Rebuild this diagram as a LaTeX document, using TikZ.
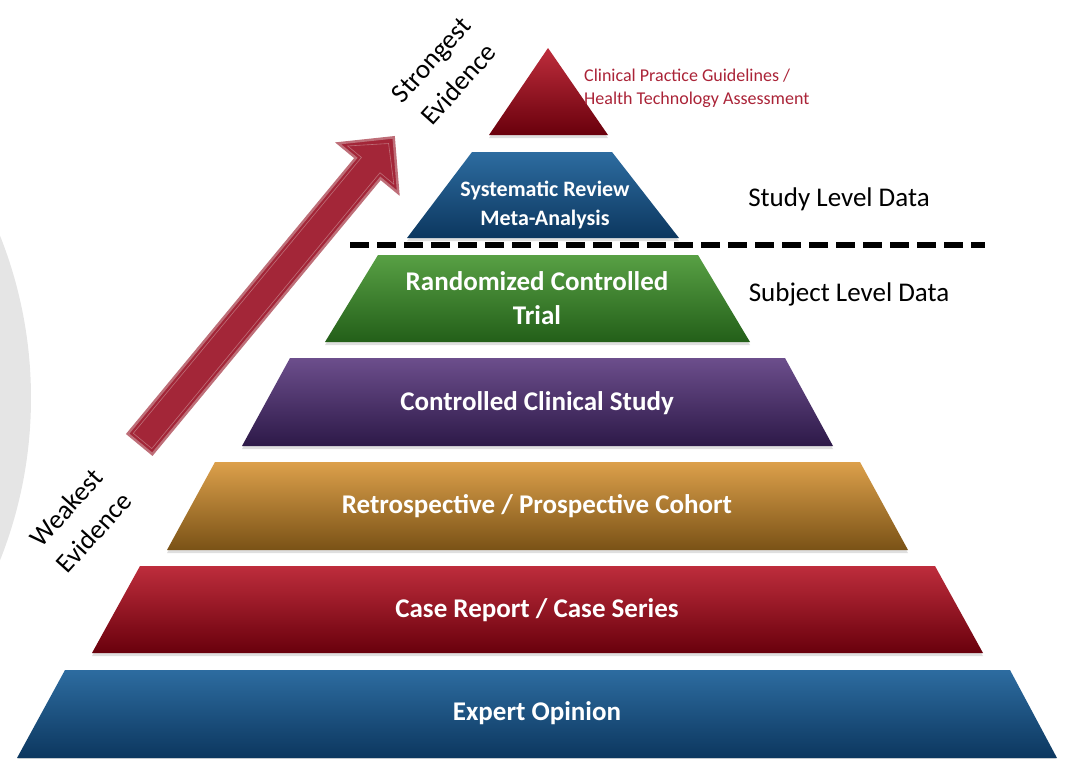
\documentclass[tikz,border=0pt]{standalone}
\usepackage{fontspec}
\setmainfont{Carlito}
\usetikzlibrary{positioning, shadows}

\definecolor{redtop}{RGB}{190,45,60}
\definecolor{redbot}{RGB}{105,0,12}
\definecolor{bluetop}{RGB}{45,108,160}
\definecolor{bluebot}{RGB}{12,55,95}
\definecolor{greentop}{RGB}{88,160,68}
\definecolor{greenbot}{RGB}{35,95,25}
\definecolor{purpletop}{RGB}{108,78,140}
\definecolor{purplebot}{RGB}{45,25,72}
\definecolor{goldtop}{RGB}{220,160,75}
\definecolor{goldbot}{RGB}{122,82,22}
\definecolor{arrowred}{RGB}{163,38,56}
\definecolor{arrowedge}{RGB}{190,110,120}
\definecolor{guidered}{RGB}{170,35,55}

\begin{document}
\begin{tikzpicture}[
  x=1pt, y=-1pt,
  tier/.style={drop shadow={opacity=0.25, shadow xshift=0pt, shadow yshift=-3pt}},
  tierlabel/.style={text=white, align=center, inner sep=0pt,
    font=\bfseries\fontsize{27}{34}\selectfont},
  sidelabel/.style={align=center, inner sep=0pt, font=\fontsize{27}{30}\selectfont},
  evidence/.style={align=center, inner sep=0pt, rotate=48, font=\fontsize{27}{37}\selectfont}
]
\useasboundingbox (0,0) rectangle (1067,758);

% pale disc on the left
\fill[black!10] (-408,398) circle (439);

% Tiers (top to bottom)
\shade[tier, top color=redtop, bottom color=redbot]
  (548,48) -- (608,135) -- (489,135) -- cycle;
\shade[tier, top color=bluetop, bottom color=bluebot]
  (472,152) -- (612,152) -- (679,238) -- (407,238) -- cycle;
\shade[tier, top color=greentop, bottom color=greenbot]
  (378,255) -- (698,255) -- (750,342) -- (325,342) -- cycle;
\shade[tier, top color=purpletop, bottom color=purplebot]
  (290,358) -- (785,358) -- (833,446) -- (242,446) -- cycle;
\shade[tier, top color=goldtop, bottom color=goldbot]
  (215,462) -- (860,462) -- (908,550) -- (167,550) -- cycle;
\shade[tier, top color=redtop, bottom color=redbot]
  (140,566) -- (935,566) -- (983,653) -- (92,653) -- cycle;
\shade[tier, top color=bluetop, bottom color=bluebot]
  (65,670) -- (1010,670) -- (1057,758) -- (17,758) -- cycle;

% Tier labels
\node[anchor=west, text=guidered, align=left, inner sep=0pt,
  font=\fontsize{18}{23}\selectfont] (guide) at (584,88)
  {Clinical Practice Guidelines /\\Health Technology Assessment};
\node[tierlabel, font=\bfseries\fontsize{22}{29}\selectfont] (review) at (545,205)
  {Systematic Review\\Meta-Analysis};
\node[tierlabel] (rct) at (537,298) {Randomized Controlled\\Trial};
\node[tierlabel] (ccs) at (537,403) {Controlled Clinical Study};
\node[tierlabel] (cohort) at (537,506) {Retrospective / Prospective Cohort};
\node[tierlabel] (cases) at (537,610) {Case Report / Case Series};
\node[tierlabel] (expert) at (537,713) {Expert Opinion};

% Data level split
\coordinate (splitL) at (350,245);
\coordinate (splitR) at (985,245);
\draw[line width=6pt, dash pattern=on 19pt off 8pt] (splitL) -- (splitR);
\node[sidelabel] (studylvl) at (839,199) {Study Level Data};
\node[sidelabel] (subjectlvl) at (849,294) {Subject Level Data};

% Evidence arrow
\begin{scope}[shift={(140,444)}, rotate=50.4]
  \filldraw[fill=arrowred, draw=arrowedge, line width=2.5pt, line join=miter]
    (0,-16) -- (358,-16) -- (358,-39) -- (398,0) -- (358,39) -- (358,16)
    -- (0,16) -- cycle;
  \draw[arrowedge, line width=0.6pt]
    (4,-12) -- (362,-12) -- (362,-30) -- (390,0) -- (362,30) -- (362,12)
    -- (4,12) -- cycle;
\end{scope}
\node[evidence] (strong) at (445,72) {Strongest\\Evidence};
\node[evidence] (weak) at (80,520) {Weakest\\Evidence};

\end{tikzpicture}
\end{document}
